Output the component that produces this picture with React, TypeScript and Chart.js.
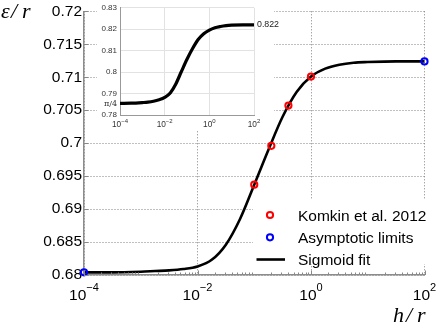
import React, { useEffect, useRef } from 'react';
import { Chart, registerables } from 'chart.js';
Chart.register(...registerables);

// ---- data ----
const curveX = [1e-4, 3.16e-4, 1e-3, 1.78e-3, 3.16e-3, 5.62e-3, 1e-2, 1.78e-2, 3.16e-2, 5.62e-2, 0.1, 0.178, 0.316, 0.562, 1, 1.78, 3.16, 5.62, 10, 31.6, 100];
const curveY = [0.6804, 0.6804, 0.6805, 0.6806, 0.6807, 0.6809, 0.6813, 0.6823, 0.6846, 0.6885, 0.6937, 0.699, 0.704, 0.7078, 0.7101, 0.7113, 0.7119, 0.7122, 0.7123, 0.7124, 0.7124];
const komkinX = [0.1, 0.2, 0.4, 1];
const komkinY = [0.6937, 0.6996, 0.7057, 0.7101];
const limitX = [1e-4, 1e2];
const limitY = [0.6804, 0.7124];
const insetY = [0.7854, 0.7855, 0.7858, 0.786, 0.7864, 0.7871, 0.7882, 0.7903, 0.7945, 0.8003, 0.806, 0.811, 0.8152, 0.8179, 0.8196, 0.8207, 0.8213, 0.8217, 0.8219, 0.822, 0.822];

const xTicks = [1e-4, 1e-2, 1, 1e2];
const yTicks = [0.68, 0.685, 0.69, 0.695, 0.7, 0.705, 0.71, 0.715, 0.72];
const insetYTicks = [0.78, Math.PI / 4, 0.79, 0.8, 0.81, 0.82, 0.83];
const insetYLabels = ['0.78', 'π/4', '0.79', '0.8', '0.81', '0.82', '0.83'];
const legendLabels = ['Komkin et al. 2012', 'Asymptotic limits', 'Sigmoid fit'];
const endLabel = '0.822';

const SANS = '"Liberation Sans", Arial, sans-serif';

function drawPow(ctx: CanvasRenderingContext2D, cx: number, baseY: number, exp: number, big: number, small: number, color: string, rise: number) {
  const base = '10';
  const e = exp < 0 ? '\u2212' + Math.abs(exp) : String(exp);
  ctx.font = `${big}px ${SANS}`;
  const wb = ctx.measureText(base).width;
  ctx.font = `${small}px ${SANS}`;
  const we = ctx.measureText(e).width;
  const start = cx - (wb + we) / 2;
  ctx.fillStyle = color;
  ctx.textAlign = 'left';
  ctx.textBaseline = 'alphabetic';
  ctx.font = `${big}px ${SANS}`;
  ctx.fillText(base, start, baseY);
  ctx.font = `${small}px ${SANS}`;
  ctx.fillText(e, start + wb, baseY - rise);
}

const mainPlugin = {
  id: 'mainDecor',
  beforeDatasetsDraw(chart: any) {
    const ctx = chart.ctx;
    ctx.save();
    ctx.fillStyle = '#ffffff';
    ctx.fillRect(97, 0, 177, 130);
    ctx.restore();
  },
  afterDatasetsDraw(chart: any) {
    const ctx = chart.ctx;
    ctx.save();
    ctx.fillStyle = '#ffffff';
    ctx.fillRect(253, 200, 183, 64);
    const mx = 270;
    const rows = [215, 237.3, 259.5];
    ctx.lineWidth = 2;
    ctx.strokeStyle = '#ff0000';
    ctx.beginPath(); ctx.arc(mx, rows[0], 3.1, 0, Math.PI * 2); ctx.stroke();
    ctx.strokeStyle = '#0000ff';
    ctx.beginPath(); ctx.arc(mx, rows[1], 3.1, 0, Math.PI * 2); ctx.stroke();
    ctx.strokeStyle = '#000';
    ctx.lineWidth = 2.6;
    ctx.beginPath(); ctx.moveTo(256.5, rows[2]); ctx.lineTo(285, rows[2]); ctx.stroke();
    ctx.fillStyle = '#000';
    ctx.font = `15.5px ${SANS}`;
    ctx.textAlign = 'left';
    ctx.textBaseline = 'alphabetic';
    legendLabels.forEach((t, i) => ctx.fillText(t, 298, rows[i] + 5.6));
    ctx.restore();
  },
  afterDraw(chart: any) {
    const ctx = chart.ctx;
    const xs = chart.scales.x;
    const ys = chart.scales.y;
    const a = chart.chartArea;
    ctx.save();
    // inward ticks
    ctx.strokeStyle = '#888';
    ctx.lineWidth = 1;
    ctx.beginPath();
    yTicks.forEach((v) => {
      const py = Math.round(ys.getPixelForValue(v)) + 0.5;
      ctx.moveTo(a.left, py); ctx.lineTo(a.left + 4.5, py);
    });
    xTicks.forEach((v) => {
      const px = Math.round(xs.getPixelForValue(v)) + 0.5;
      ctx.moveTo(px, a.bottom); ctx.lineTo(px, a.bottom - 4.5);
    });
    for (let d = -4; d < 2; d++) {
      for (let m = 2; m < 10; m++) {
        const px = Math.round(xs.getPixelForValue(m * Math.pow(10, d))) + 0.5;
        ctx.moveTo(px, a.bottom); ctx.lineTo(px, a.bottom - 2.5);
      }
    }
    ctx.stroke();
    // x tick labels
    xTicks.forEach((v) => {
      const px = xs.getPixelForValue(v);
      drawPow(ctx, px, 300, Math.round(Math.log10(v)), 15.5, 11, '#000', 9);
    });
    // axis titles
    ctx.fillStyle = '#000';
    ctx.textBaseline = 'alphabetic';
    ctx.textAlign = 'left';
    ctx.font = 'italic 22px "Liberation Serif", serif';
    ctx.fillText('ε', 1, 18);
    ctx.fillText('/', 11, 18);
    ctx.fillText('r', 22, 18);
    ctx.fillText('h', 393, 322);
    ctx.fillText('/', 406, 322);
    ctx.fillText('r', 417, 322);
    ctx.restore();
  },
};

const insetPlugin = {
  id: 'insetDecor',
  afterDraw(chart: any) {
    const ctx = chart.ctx;
    const xs = chart.scales.x;
    const ys = chart.scales.y;
    ctx.save();
    xTicks.forEach((v) => {
      const px = xs.getPixelForValue(v);
      drawPow(ctx, px, 127, Math.round(Math.log10(v)), 8.3, 6, '#333', 4);
    });
    ctx.fillStyle = '#222';
    ctx.font = `8.8px ${SANS}`;
    ctx.textAlign = 'left';
    ctx.textBaseline = 'middle';
    ctx.fillText(endLabel, xs.getPixelForValue(100) + 3, ys.getPixelForValue(0.822));
    ctx.restore();
  },
};

export default function App() {
  const mainRef = useRef<HTMLCanvasElement>(null);
  const insetRef = useRef<HTMLCanvasElement>(null);

  useEffect(() => {
    const main = new Chart(mainRef.current as HTMLCanvasElement, {
      type: 'line',
      data: {
        datasets: [
          {
            label: legendLabels[0],
            data: komkinX.map((x, i) => ({ x, y: komkinY[i] })),
            showLine: false,
            pointRadius: 3.1,
            pointBorderWidth: 2,
            pointBorderColor: '#ff0000',
            pointBackgroundColor: 'rgba(0,0,0,0)',
            clip: false,
          } as any,
          {
            label: legendLabels[1],
            data: limitX.map((x, i) => ({ x, y: limitY[i] })),
            showLine: false,
            pointRadius: 3.1,
            pointBorderWidth: 2,
            pointBorderColor: '#0000ff',
            pointBackgroundColor: 'rgba(0,0,0,0)',
            clip: false,
          } as any,
          {
            label: legendLabels[2],
            data: curveX.map((x, i) => ({ x, y: curveY[i] })),
            borderColor: '#000',
            borderWidth: 2.6,
            pointRadius: 0,
            cubicInterpolationMode: 'monotone',
            fill: false,
            clip: false,
          } as any,
        ],
      },
      options: {
        responsive: false,
        animation: false,
        layout: { padding: { left: 0, top: 9, right: 11.5, bottom: 0 } },
        plugins: { legend: { display: false }, tooltip: { enabled: false } },
        scales: {
          x: {
            type: 'logarithmic',
            min: 1e-4,
            max: 1e2,
            afterBuildTicks: (s: any) => { s.ticks = xTicks.map((v) => ({ value: v })); },
            afterFit: (s: any) => { s.height = 55; },
            ticks: { display: false },
            grid: { color: '#808080', lineWidth: 1, drawTicks: false },
            border: { display: true, color: '#8c8c8c', width: 1.5, dash: [1, 2] },
          },
          y: {
            type: 'linear',
            min: 0.68,
            max: 0.72,
            afterBuildTicks: (s: any) => { s.ticks = yTicks.map((v) => ({ value: v })); },
            afterFit: (s: any) => { s.width = 84; },
            ticks: {
              callback: (v: any) => String(v),
              font: { family: SANS, size: 15.5 },
              color: '#000',
              padding: 2,
            },
            grid: { color: '#808080', lineWidth: 1, drawTicks: false },
            border: { display: true, color: '#8c8c8c', width: 1.5, dash: [1, 2] },
          },
        },
      } as any,
      plugins: [mainPlugin],
    });

    const inset = new Chart(insetRef.current as HTMLCanvasElement, {
      type: 'line',
      data: {
        datasets: [
          {
            data: curveX.map((x, i) => ({ x, y: insetY[i] })),
            borderColor: '#000',
            borderWidth: 3.2,
            pointRadius: 0,
            cubicInterpolationMode: 'monotone',
            fill: false,
          } as any,
        ],
      },
      options: {
        responsive: false,
        animation: false,
        layout: { padding: { left: 0, top: 7, right: 43, bottom: 0 } },
        plugins: { legend: { display: false }, tooltip: { enabled: false } },
        scales: {
          x: {
            type: 'logarithmic',
            min: 1e-4,
            max: 1e2,
            afterBuildTicks: (s: any) => { s.ticks = xTicks.map((v) => ({ value: v })); },
            afterFit: (s: any) => { s.height = 17; },
            ticks: { display: false },
            grid: { color: '#e2e2e2', lineWidth: 1, drawTicks: false },
            border: { display: true, color: '#999', width: 1 },
          },
          y: {
            type: 'linear',
            min: 0.78,
            max: 0.83,
            afterBuildTicks: (s: any) => { s.ticks = insetYTicks.map((v) => ({ value: v })); },
            afterFit: (s: any) => { s.width = 23; },
            ticks: {
              callback: (_v: any, i: number) => insetYLabels[i],
              font: (c: any) =>
                c.tick && Math.abs(c.tick.value - Math.PI / 4) < 1e-6
                  ? { family: '"DejaVu Serif", serif', size: 8 }
                  : { family: SANS, size: 8 },
              color: '#333',
              padding: 3,
            },
            grid: {
              color: (c: any) =>
                c.tick && Math.abs(c.tick.value - Math.PI / 4) < 1e-6 ? 'rgba(0,0,0,0)' : '#e2e2e2',
              lineWidth: 1,
              drawTicks: false,
            },
            border: { display: true, color: '#999', width: 1 },
          },
        },
      } as any,
      plugins: [insetPlugin],
    });

    return () => {
      main.destroy();
      inset.destroy();
    };
  }, []);

  return (
    <div style={{ position: 'fixed', left: 0, top: 0, width: 436, height: 330, background: '#fff' }}>
      <canvas ref={mainRef} width={436} height={330} style={{ position: 'absolute', left: 0, top: 0 }} />
      <canvas ref={insetRef} width={200} height={132} style={{ position: 'absolute', left: 97, top: 0 }} />
    </div>
  );
}
